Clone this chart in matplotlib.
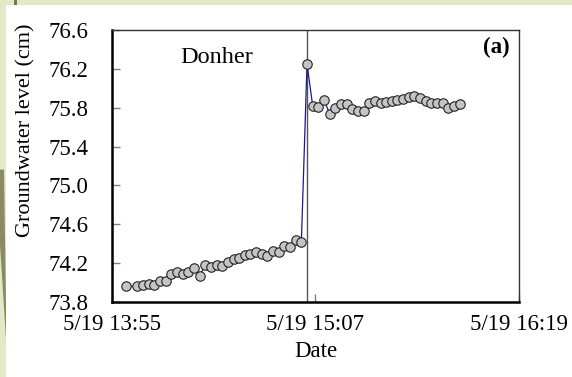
import matplotlib
matplotlib.use("Agg")
import matplotlib.pyplot as plt
from matplotlib.patches import Rectangle, Polygon
import pandas as pd

# readings every 2 min on 5/19 (14:02 missing)
times = ["14:00", "14:04", "14:06", "14:08", "14:10", "14:12", "14:14", "14:16",
         "14:18", "14:20", "14:22", "14:24", "14:26", "14:28", "14:30", "14:32",
         "14:34", "14:36", "14:38", "14:40", "14:42", "14:44", "14:46", "14:48",
         "14:50", "14:52", "14:54", "14:56", "14:58", "15:00", "15:02", "15:04",
         "15:06", "15:08", "15:10", "15:12", "15:14", "15:16", "15:18", "15:20",
         "15:22", "15:24", "15:26", "15:28", "15:30", "15:32", "15:34", "15:36",
         "15:38", "15:40", "15:42", "15:44", "15:46", "15:48", "15:50", "15:52",
         "15:54", "15:56", "15:58"]
level = [73.96, 73.96, 73.97, 73.99, 73.98, 74.02, 74.02, 74.09, 74.11, 74.09,
         74.11, 74.15, 74.07, 74.18, 74.16, 74.18, 74.17, 74.21, 74.24, 74.25,
         74.28, 74.29, 74.31, 74.29, 74.27, 74.33, 74.31, 74.38, 74.37, 74.44,
         74.42, 76.25,
         75.82, 75.81, 75.88, 75.74, 75.80, 75.84, 75.84, 75.79, 75.77, 75.77,
         75.85, 75.87, 75.85, 75.86, 75.87, 75.88, 75.89, 75.91, 75.92, 75.90,
         75.87, 75.85, 75.85, 75.85, 75.80, 75.82, 75.84]
event_time = "15:04"
xtick_times = ["13:55", "15:07", "16:19"]
xtick_labels = ["5/19 13:55", "5/19 15:07", "5/19 16:19"]
yticks = [73.8, 74.2, 74.6, 75.0, 75.4, 75.8, 76.2, 76.6]

day = "2000-05-19 "
t = pd.to_datetime([day + s for s in times])
xt = pd.to_datetime([day + s for s in xtick_times])

plt.rcParams['font.family'] = ['Liberation Serif', 'DejaVu Serif']

fig = plt.figure(figsize=(5.72, 3.77), dpi=100)
fig.patch.set_facecolor('#e3e9c6')
# white panel and the olive streak on the left margin
fig.patches.append(Rectangle((6 / 572, 0), 1, 1 - 5 / 377, transform=fig.transFigure,
                             facecolor='white', edgecolor='none', zorder=-5))
fig.patches.append(Polygon([(0, 0.55), (4 / 572, 0.55), (6 / 572, 0.2), (6 / 572, 0.1),
                            (0, 0.35)], closed=True, transform=fig.transFigure,
                           facecolor='#8c8a66', edgecolor='none', zorder=-5))
fig.patches.append(Polygon([(14 / 572, 1), (17 / 572, 1), (17 / 572, 1 - 5 / 377),
                            (14 / 572, 1 - 5 / 377)], closed=True, transform=fig.transFigure,
                           facecolor='#7a7452', edgecolor='none', zorder=-5))

ax = fig.add_axes([112 / 572, 1 - 302 / 377, 407 / 572, 272 / 377])
ax.set_facecolor('none')
ax.set_zorder(2)

ax.axvline(pd.Timestamp(day + event_time), color='#555555', lw=1.0, zorder=1)
ax.plot(t, level, color='#1a1a8c', lw=0.9, marker='o', ms=6.8,
        mfc='#c4c4c4', mec='#222222', mew=0.8, zorder=3)

ax.set_xlim(xt[0], xt[-1])
ax.set_ylim(73.8, 76.6)
ax.set_yticks(yticks)
ax.set_yticklabels([f"{v:.1f}" for v in yticks])
ax.set_xticks(xt)
ax.set_xticklabels(xtick_labels)

ax.tick_params(axis='both', direction='in', length=6, width=1, color='#808080',
               labelsize=16.5)
ax.tick_params(axis='y', pad=17)
ax.tick_params(axis='x', pad=9)

for side in ['left', 'bottom']:
    ax.spines[side].set_linewidth(1.8)
    ax.spines[side].set_color('black')
for side in ['top', 'right']:
    ax.spines[side].set_linewidth(1.0)
    ax.spines[side].set_color('#333333')

ax.set_xlabel("Date", fontsize=16.5, labelpad=4)
ax.set_ylabel("Groundwater level (cm)", fontsize=16, va='center')
ax.yaxis.set_label_coords(-0.211, 0.632)

ax.text(0.258, 0.9, "Donher", transform=ax.transAxes, fontsize=17.5,
        ha='center', va='center')
ax.text(0.977, 0.935, "(a)", transform=ax.transAxes, fontsize=16.5,
        fontweight='bold', ha='right', va='center')

fig.savefig("out.png", dpi=100, facecolor=fig.get_facecolor())
